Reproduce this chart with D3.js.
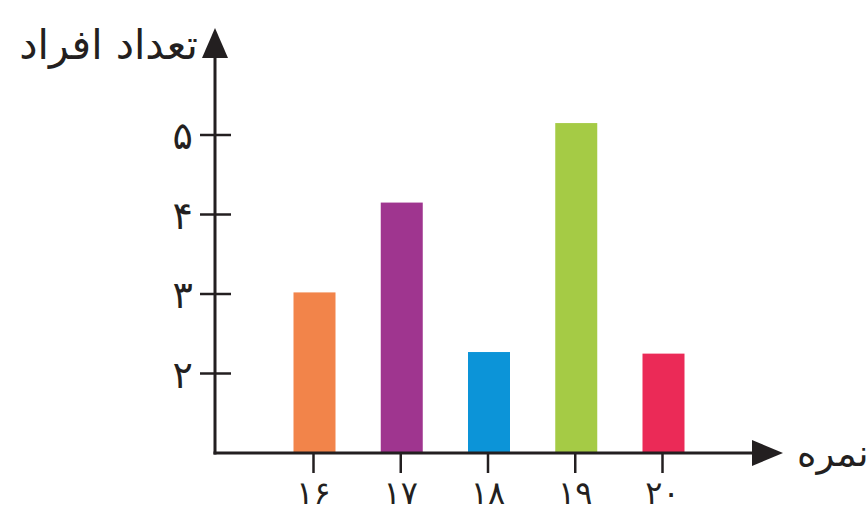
<!DOCTYPE html>
<html><head><meta charset="utf-8">
<script src="https://cdn.jsdelivr.net/npm/d3@7"></script>
<style>
html,body{margin:0;padding:0;background:#fff;}
svg{display:block;}
text{font-family:"DejaVu Sans",sans-serif;fill:#231f20;}
</style></head>
<body>
<svg id="chart" width="868" height="513"></svg>
<script>
const categories = ["۱۶","۱۷","۱۸","۱۹","۲۰"];
const values = [3.02, 4.15, 2.27, 5.15, 2.25];
const colors = ["#f2844a","#9f358f","#0c94d8","#a5cb45","#eb2a57"];
const yTicks = [2,3,4,5];
const yTickLabels = ["۲","۳","۴","۵"];
const yTitle = "تعداد افراد";
const xTitle = "نمره";

const svg = d3.select("#chart");
const axisColor = "#231f20";
const x0 = 215, yBase = 453;

const x = d3.scalePoint().domain(categories).range([313.5, 662.5]);
const y = d3.scaleLinear().domain([1, 5]).range([yBase, 135]);
const barW = 42;

// bars
svg.selectAll("rect.bar").data(values).join("rect")
  .attr("class","bar")
  .attr("x",(d,i)=>x(categories[i]) - barW/2 + 1)
  .attr("y",d=>y(d))
  .attr("width",barW)
  .attr("height",d=>yBase - y(d))
  .attr("fill",(d,i)=>colors[i]);

// y axis line
svg.append("line").attr("x1",x0).attr("x2",x0).attr("y1",yBase+1.5).attr("y2",55)
  .attr("stroke",axisColor).attr("stroke-width",3);
// y arrow
svg.append("path").attr("d",`M${x0},28 L${x0+13},58 L${x0-13},58 Z`).attr("fill",axisColor);
// x axis line
svg.append("line").attr("x1",x0-1.5).attr("x2",755).attr("y1",yBase).attr("y2",yBase)
  .attr("stroke",axisColor).attr("stroke-width",3);
// x arrow
svg.append("path").attr("d",`M783,${yBase} L752,${yBase-13} L752,${yBase+13} Z`).attr("fill",axisColor);

// y ticks
svg.selectAll("line.ytick").data(yTicks).join("line")
  .attr("class","ytick")
  .attr("x1",x0-15).attr("x2",x0+16)
  .attr("y1",d=>y(d)).attr("y2",d=>y(d))
  .attr("stroke",axisColor).attr("stroke-width",2.5);
svg.selectAll("text.ylab").data(yTicks).join("text")
  .attr("class","ylab")
  .attr("x",193).attr("y",d=>y(d)+14)
  .attr("text-anchor","end")
  .attr("font-size",38)
  .text((d,i)=>yTickLabels[i]);

// x ticks
svg.selectAll("line.xtick").data(categories).join("line")
  .attr("class","xtick")
  .attr("x1",d=>x(d)).attr("x2",d=>x(d))
  .attr("y1",yBase).attr("y2",yBase+20)
  .attr("stroke",axisColor).attr("stroke-width",2.5);
svg.selectAll("text.xlab").data(categories).join("text")
  .attr("class","xlab")
  .attr("x",d=>x(d)).attr("y",504)
  .attr("text-anchor","middle")
  .attr("font-size",32)
  .text(d=>d);

// titles
svg.append("text").attr("x",198).attr("y",59).attr("text-anchor","end")
  .attr("font-size",41).text(yTitle);
svg.append("text").attr("x",797).attr("y",466).attr("text-anchor","start")
  .attr("font-size",37).text(xTitle);
</script>
</body></html>
